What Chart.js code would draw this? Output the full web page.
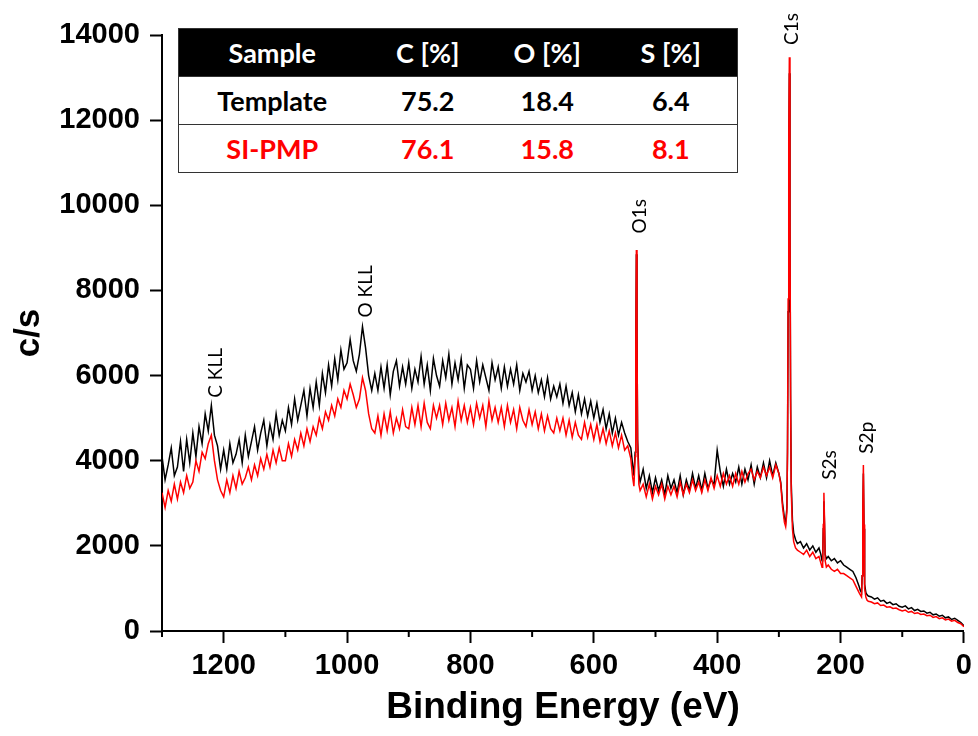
<!DOCTYPE html>
<html>
<head>
<meta charset="utf-8">
<script src="https://cdn.jsdelivr.net/npm/chart.js@4.4.1/dist/chart.umd.min.js"></script>
<style>
  body { margin: 0; background: #fff; }
  #wrap { position: relative; width: 978px; height: 736px; }
  #comp {
    position: absolute; left: 178px; top: 28px; width: 560px;
    border-collapse: collapse; border: 1.5px solid #333;
    font-family: Lato, "Open Sans", sans-serif; font-weight: bold; font-size: 27px;
    background: #fff;
  }
  #comp td, #comp th { height: 47px; padding: 0; text-align: center; }
  #comp th { background: #000; color: #fff; font-weight: bold; }
  #comp tr + tr td { border-top: 1px solid #333; }
  #comp .red { color: #ff0000; }
</style>
</head>
<body>
<div id="wrap">
  <canvas id="xps" width="978" height="736"></canvas>
  <table id="comp"></table>
</div>
<script>
// binding energy (eV), shared by both spectra
const energy = [
  1300,1295,1290,1285,1280,1275,1270,1265,1260,1255,
  1250,1245,1240,1235,1230,1225,1220,1215,1210,1205,
  1200,1195,1190,1185,1180,1175,1170,1165,1160,1155,
  1150,1145,1140,1135,1130,1125,1120,1115,1110,1105,
  1100,1095,1090,1085,1080,1075,1070,1065,1060,1055,
  1050,1045,1040,1035,1030,1025,1020,1015,1010,1005,
  1000,995,990,985,980,975,970,965,960,955,
  950,945,940,935,930,925,920,915,910,905,
  900,895,890,885,880,875,870,865,860,855,
  850,845,840,835,830,825,820,815,810,805,
  800,795,790,785,780,775,770,765,760,755,
  750,745,740,735,730,725,720,715,710,705,
  700,695,690,685,680,675,670,665,660,655,
  650,645,640,635,630,625,620,615,610,605,
  600,595,590,585,580,575,570,565,560,555,
  550,545,
  540,537,535,533,532,531,530,529,527,525,
  520,515,510,505,500,495,490,485,480,475,
  470,465,460,455,450,445,440,435,430,425,
  420,415,410,405,400,395,390,385,380,375,
  370,365,360,355,350,345,340,335,330,325,
  320,315,310,305,300,
  297,294,291,289,287,286,285,284,283,282,281,280,278,276,273,270,
  265,260,255,250,245,240,235,
  232,230,229,228,227,226,225,223,220,
  215,210,205,200,195,190,185,180,175,170,
  168,166,165,164,163,162,161,159,157,155,
  150,145,140,135,130,125,120,115,110,105,
  100,95,90,85,80,75,70,65,60,55,
  50,45,40,35,30,25,20,15,10,5,
  0
];

// counts per second, Template (black)
const template = [
  4100,3550,3900,4300,3650,3850,4450,3750,4500,3950,
  4650,4100,4800,4400,5100,4700,5300,4600,4350,3800,
  4250,3800,4400,3950,4150,4500,3950,4600,4100,4450,
  4800,4250,4650,4950,4350,4850,4500,5100,4600,4950,
  4700,5250,4850,5450,4950,5300,5650,5050,5700,5250,
  5850,5300,6050,5600,6250,5750,6400,5900,6600,6150,
  6300,6850,6350,6100,6500,7150,6650,6000,5650,6050,
  5650,6200,5700,6250,5550,6100,6350,5750,6200,5800,
  6300,5700,6150,5850,6450,5800,6250,5650,6400,6000,
  5750,6350,5950,6500,5800,6300,5900,6400,5700,6250,
  6150,5700,6350,5850,6250,5950,5650,6300,5900,6200,
  5700,6200,5750,6150,5800,6250,5650,6050,5850,6100,
  5650,6000,5600,5900,5500,5950,5450,5750,5500,5800,
  5350,5750,5300,5600,5150,5550,5100,5450,5050,5400,
  5000,5350,4900,5200,4750,5100,4650,5000,4600,4900,
  4650,4450,
  4300,3900,3650,4200,6500,8850,7000,4500,3700,3500,
  3800,3350,3650,3250,3600,3300,3550,3200,3650,3350,
  3550,3250,3650,3200,3550,3300,3700,3350,3650,3300,
  3700,3350,3550,3450,4250,3750,3400,3800,3450,3700,
  3500,3850,3450,3800,3550,3900,3450,3850,3600,3950,
  3600,4000,3650,3950,3700,
  3500,3000,2650,2550,2900,4200,7500,11000,13100,9500,5500,3500,2600,2300,2150,2050,
  2100,1950,2050,1900,2000,1850,1950,
  1800,1650,1750,2400,3050,2500,1800,1700,1750,
  1650,1700,1600,1650,1550,1500,1450,1400,1250,1050,
  950,900,1300,2600,3700,2400,1100,900,850,820,
  800,750,780,700,720,650,680,620,640,580,
  560,590,520,550,480,510,460,470,420,440,
  380,400,350,370,310,330,270,300,250,200,
  120
];

// counts per second, SI-PMP (red)
const siPmp = [
  3250,2900,3300,3050,3450,3100,3500,3250,3650,3350,
  3500,4000,3750,4200,4050,4400,4600,4000,3550,3300,
  3150,3550,3250,3650,3350,3750,3450,3600,3850,3550,
  3900,3650,4050,3800,4150,3850,4250,3950,4300,4000,
  4000,4400,4100,4500,4250,4650,4350,4750,4450,4800,
  4600,5000,4750,5150,4950,5300,5050,5450,5250,5650,
  5450,5800,5550,5250,5450,5950,5650,5100,4750,4650,
  5050,4600,5100,4700,5150,4650,5000,4750,5200,4800,
  4750,5250,4850,5300,4800,5350,4900,4750,5300,5000,
  5300,4850,5350,4950,5250,4800,5400,4950,5300,4900,
  5250,4850,5350,5000,5300,4800,5400,4950,5250,4900,
  5250,4800,5300,4900,5200,4750,5250,4950,4800,5200,
  4850,5150,4750,5100,4700,5050,4750,4650,5000,4700,
  5000,4600,4950,4550,4900,4600,4500,4900,4550,4850,
  4500,4850,4450,4750,4400,4700,4350,4650,4300,4600,
  4250,4350,
  4050,3600,3400,4100,6600,8950,7100,4400,3450,3300,
  3450,3150,3450,3100,3400,3200,3450,3100,3400,3200,
  3400,3150,3500,3200,3450,3250,3550,3300,3500,3250,
  3550,3300,3600,3350,3650,3400,3700,3450,3650,3400,
  3700,3450,3750,3500,3700,3800,3550,3750,3600,3850,
  3650,3850,3600,3900,3700,
  3450,2900,2550,2450,2800,4300,7800,11500,13480,9800,5400,3300,2400,2100,1950,1900,
  1850,1800,1900,1750,1850,1700,1750,
  1600,1500,1550,2500,3250,2600,1650,1500,1550,
  1450,1400,1450,1350,1350,1300,1250,1200,1050,900,
  850,800,1300,2800,3900,2500,1000,800,720,700,
  680,640,660,600,610,560,570,530,540,500,
  470,490,440,460,410,430,390,400,360,370,
  320,340,290,310,260,280,230,250,200,170,
  100
];

// peak labels: name, energy, count level where the text starts
const peakNames = ['C KLL', 'O KLL', 'O1s', 'C1s', 'S2s', 'S2p'];
const peakEnergy = [1213, 969, 526, 279, 218, 158];
const peakLabelAt = [5480, 7365, 9340, 13765, 3553, 4165];

// composition table
const tableHeader = ['Sample', 'C [%]', 'O [%]', 'S [%]'];
const samples = ['Template', 'SI-PMP'];
const carbon = ['75.2', '76.1'];
const oxygen = ['18.4', '15.8'];
const sulfur = ['6.4', '8.1'];

const minorTicks = [1300, 1100, 900, 700, 500, 300, 100];

// build the inset table
const tbl = document.getElementById('comp');
const colW = [187, 125, 115, 133];
let html = '<tr>' + tableHeader.map((h, i) => '<th style="width:' + colW[i] + 'px">' + h + '</th>').join('') + '</tr>';
samples.forEach((s, i) => {
  const cls = i === 1 ? ' class="red"' : '';
  html += '<tr' + cls + '><td>' + s + '</td><td>' + carbon[i] + '</td><td>' + oxygen[i] + '</td><td>' + sulfur[i] + '</td></tr>';
});
tbl.innerHTML = html;

const toPoints = (vals) => energy.map((e, i) => ({ x: e, y: vals[i] }));

const extras = {
  id: 'extras',
  afterDraw(chart) {
    const ctx = chart.ctx;
    const xs = chart.scales.x, ys = chart.scales.y;
    const bottom = chart.chartArea.bottom;
    ctx.save();
    // shorter minor ticks on the energy axis
    ctx.strokeStyle = '#000';
    ctx.lineWidth = 2;
    minorTicks.forEach(v => {
      const px = xs.getPixelForValue(v);
      ctx.beginPath();
      ctx.moveTo(px, bottom);
      ctx.lineTo(px, bottom + 6);
      ctx.stroke();
    });
    // rotated peak names
    ctx.fillStyle = '#000';
    ctx.font = '19px Lato, "Open Sans", sans-serif';
    ctx.textAlign = 'left';
    ctx.textBaseline = 'middle';
    peakNames.forEach((name, i) => {
      ctx.save();
      ctx.translate(xs.getPixelForValue(peakEnergy[i]), ys.getPixelForValue(peakLabelAt[i]));
      ctx.rotate(-Math.PI / 2);
      ctx.fillText(name, 0, 0);
      ctx.restore();
    });
    ctx.restore();
  }
};

const tickFont = { family: '"Liberation Sans", Arial, sans-serif', size: 29, weight: 'bold' };

new Chart(document.getElementById('xps'), {
  type: 'line',
  data: {
    datasets: [{
      label: 'SI-PMP',
      data: toPoints(siPmp),
      borderColor: '#ff0000',
      borderWidth: 1.5,
      pointRadius: 0,
      tension: 0
    }, {
      label: 'Template',
      data: toPoints(template),
      borderColor: '#000000',
      borderWidth: 1.5,
      pointRadius: 0,
      tension: 0
    }]
  },
  options: {
    responsive: false,
    animation: false,
    layout: { padding: { top: 35, right: 10, left: 0, bottom: 0 } },
    plugins: { legend: { display: false }, tooltip: { enabled: false } },
    scales: {
      x: {
        type: 'linear',
        reverse: true,
        min: 0,
        max: 1300,
        afterFit: (s) => { s.height = 105; },
        border: { display: true, color: '#000', width: 2 },
        grid: { drawOnChartArea: false, tickLength: 12, tickWidth: 2, tickColor: '#000' },
        ticks: {
          stepSize: 200,
          includeBounds: false,
          maxRotation: 0,
          autoSkip: false,
          padding: 6,
          color: '#000',
          font: tickFont,
          callback: (v) => String(v)
        },
        title: {
          display: true,
          text: 'Binding Energy (eV)',
          color: '#000',
          padding: { top: 0, bottom: 6 },
          font: { family: '"Liberation Sans", Arial, sans-serif', size: 37, weight: 'bold' }
        }
      },
      y: {
        min: 0,
        max: 14000,
        afterFit: (s) => { s.width = 162; },
        border: { display: true, color: '#000', width: 2 },
        grid: { drawOnChartArea: false, tickLength: 12, tickWidth: 2, tickColor: '#000' },
        ticks: {
          stepSize: 2000,
          padding: 10,
          color: '#000',
          font: tickFont,
          callback: (v) => String(v)
        },
        title: {
          display: true,
          text: 'c/s',
          color: '#000',
          padding: { top: 8, bottom: 0 },
          font: { family: '"Liberation Sans", Arial, sans-serif', size: 35, weight: 'bold' }
        }
      }
    }
  },
  plugins: [extras]
});
</script>
</body>
</html>
